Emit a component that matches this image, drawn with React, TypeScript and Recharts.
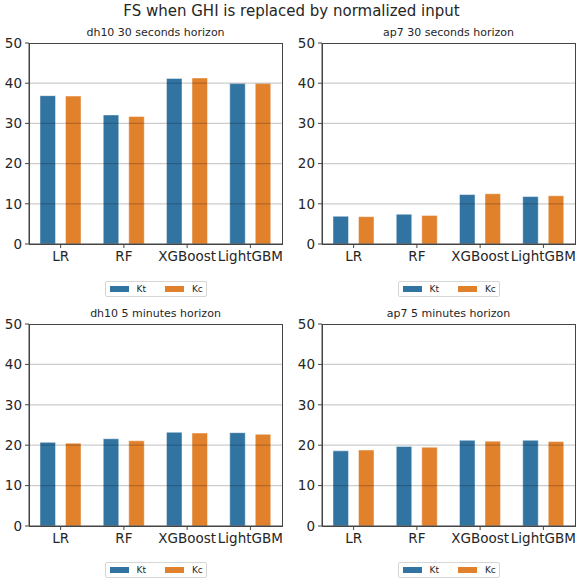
import React from 'react';
import { BarChart, Bar, XAxis, YAxis, ReferenceLine } from 'recharts';

const models = ['LR', 'RF', 'XGBoost', 'LightGBM'];
const seriesNames = ['Kt', 'Kc'];
const seriesColors = ['#3274a1', '#e1812c'];
const yTicks = [0, 10, 20, 30, 40, 50];

const dh10_30s_kt = [36.9, 32.1, 41.2, 39.9];
const dh10_30s_kc = [36.8, 31.7, 41.3, 39.9];
const ap7_30s_kt = [6.9, 7.4, 12.3, 11.8];
const ap7_30s_kc = [6.8, 7.1, 12.5, 12.0];
const dh10_5m_kt = [20.7, 21.6, 23.2, 23.1];
const dh10_5m_kc = [20.5, 21.1, 23.0, 22.7];
const ap7_5m_kt = [18.6, 19.7, 21.2, 21.2];
const ap7_5m_kc = [18.8, 19.5, 21.0, 20.9];

const mainTitle = 'FS when GHI is replaced by normalized input';

const FONT = '"DejaVu Sans", sans-serif';
const TEXT = '#262626';
const AXIS = '#444444';
const X_AXIS_H = 22;

function build(kt: number[], kc: number[]) {
  return models.map((m, i) => ({ model: m, Kt: kt[i], Kc: kc[i] }));
}

type PanelProps = {
  title: string;
  kt: number[];
  kc: number[];
  left: number;
  top: number;
  width: number;
  height: number;
  yWidth: number;
  marginTop: number;
  marginRight: number;
  marginBottom: number;
  legendTop: number;
};

function Panel(p: PanelProps) {
  const data = build(p.kt, p.kc);
  const plotLeft = p.yWidth;
  const plotRight = p.width - p.marginRight;
  const plotBottom = p.height - p.marginBottom - X_AXIS_H;
  const plotCenter = (plotLeft + plotRight) / 2;
  return (
    <div style={{ position: 'absolute', left: p.left, top: p.top, width: p.width, height: p.height }}>
      <div
        style={{
          position: 'absolute',
          left: plotCenter - 100,
          width: 200,
          top: p.marginTop - 17,
          textAlign: 'center',
          fontSize: 11,
          fontFamily: FONT,
          color: TEXT,
          whiteSpace: 'nowrap',
        }}
      >
        {p.title}
      </div>
      <BarChart
        width={p.width}
        height={p.height}
        data={data}
        margin={{ top: p.marginTop, right: p.marginRight, left: 0, bottom: p.marginBottom }}
        barSize={15.5}
        barGap={10}
      >
        <XAxis
          dataKey="model"
          interval={0}
          height={X_AXIS_H}
          stroke={AXIS}
          tickSize={4}
          tickMargin={3}
          tick={{ fontSize: 13.5, fill: TEXT, fontFamily: FONT }}
        />
        <YAxis
          domain={[0, 50]}
          ticks={yTicks}
          width={p.yWidth}
          stroke={AXIS}
          tickSize={4}
          tickMargin={3}
          tick={{ fontSize: 13.5, fill: TEXT, fontFamily: FONT }}
        />
        {seriesNames.map((s, i) => (
          <Bar
            key={s}
            dataKey={s}
            fill={seriesColors[i]}
            stroke="rgba(255,255,255,0.45)"
            strokeWidth={1}
            isAnimationActive={false}
          />
        ))}
        {yTicks.slice(1, -1).map((t) => (
          <ReferenceLine key={t} y={t} stroke="rgba(0,0,0,0.2)" strokeWidth={1.2} />
        ))}
      </BarChart>
      {/* axes frame (matplotlib-style box) */}
      <div
        style={{
          position: 'absolute',
          left: plotLeft - 0.5,
          top: p.marginTop - 0.5,
          width: plotRight - plotLeft + 1,
          height: plotBottom - p.marginTop + 1,
          boxSizing: 'border-box',
          border: `1px solid ${AXIS}`,
          pointerEvents: 'none',
        }}
      />
      <div
        style={{
          position: 'absolute',
          left: plotCenter - 51,
          top: p.legendTop,
          width: 102,
          height: 16,
          boxSizing: 'border-box',
          border: '1px solid #d6d6d6',
          borderRadius: 2,
          display: 'flex',
          alignItems: 'center',
          paddingLeft: 4,
          fontFamily: FONT,
          fontSize: 9,
          color: TEXT,
        }}
      >
        {seriesNames.map((s, i) => (
          <div key={s} style={{ display: 'flex', alignItems: 'center', marginRight: i === 0 ? 19 : 0 }}>
            <div style={{ width: 19, height: 6, background: seriesColors[i], marginRight: 8 }} />
            <span>{s}</span>
          </div>
        ))}
      </div>
    </div>
  );
}

export default function App() {
  return (
    <div style={{ position: 'absolute', left: 0, top: 0, width: 583, height: 583, background: '#fff', overflow: 'hidden' }}>
      <div
        style={{
          position: 'absolute',
          left: 0,
          width: 583,
          top: 2,
          textAlign: 'center',
          fontSize: 15,
          fontFamily: FONT,
          color: TEXT,
        }}
      >
        {mainTitle}
      </div>
      <Panel title="dh10 30 seconds horizon" kt={dh10_30s_kt} kc={dh10_30s_kc}
        left={0} top={0} width={291} height={300} yWidth={29} marginTop={43} marginRight={9} marginBottom={34} legendTop={281} />
      <Panel title="ap7 30 seconds horizon" kt={ap7_30s_kt} kc={ap7_30s_kc}
        left={291} top={0} width={292} height={300} yWidth={31} marginTop={43} marginRight={8} marginBottom={34} legendTop={281} />
      <Panel title="dh10 5 minutes horizon" kt={dh10_5m_kt} kc={dh10_5m_kc}
        left={0} top={300} width={291} height={283} yWidth={29} marginTop={24} marginRight={9} marginBottom={35} legendTop={262} />
      <Panel title="ap7 5 minutes horizon" kt={ap7_5m_kt} kc={ap7_5m_kc}
        left={291} top={300} width={292} height={283} yWidth={31} marginTop={24} marginRight={8} marginBottom={35} legendTop={262} />
    </div>
  );
}
